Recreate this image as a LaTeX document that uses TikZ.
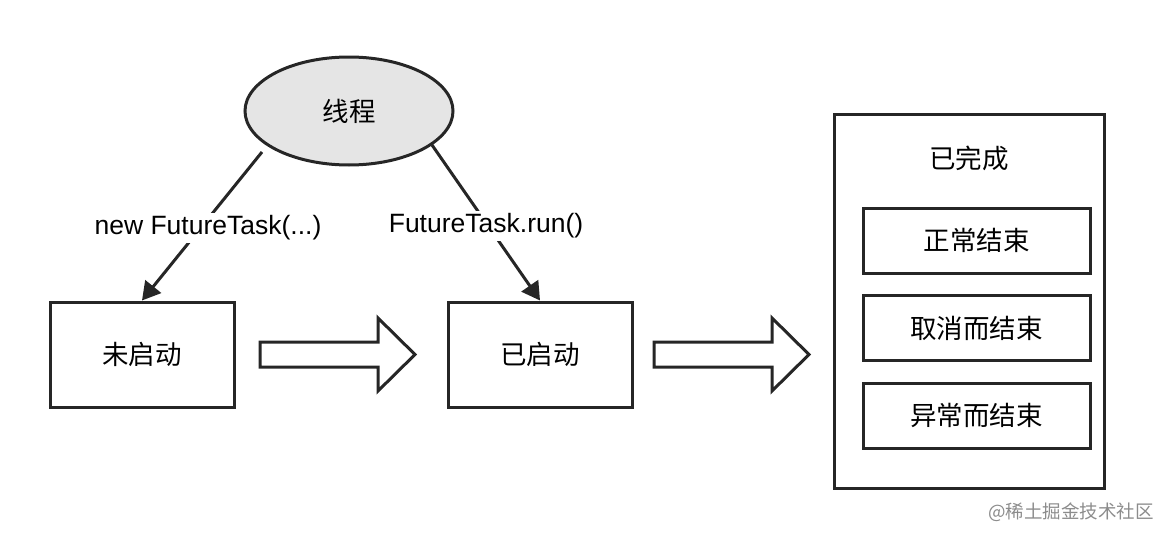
\documentclass[tikz,border=0pt]{standalone}
\usepackage{fontspec}
\setmainfont{Liberation Sans}
\newfontfamily\cjk{Noto Sans CJK SC}
\usetikzlibrary{shapes.geometric,arrows.meta}
\begin{document}
\begin{tikzpicture}[x=1pt,y=-1pt,
  ln/.style={draw=black!85,line width=3pt},
  box/.style={ln,rectangle,font=\cjk\fontsize{26.5}{30}\selectfont},
  lab/.style={fill=white,font=\fontsize{26.5}{30}\selectfont,inner sep=3pt},
  arr/.style={ln,-{Triangle[length=18pt,width=20pt]}},
  hollow/.style={ln,fill=white,line join=miter}]
\useasboundingbox (0,0) rectangle (1170,538);
\node[ln,ellipse,fill=black!10,minimum width=208pt,minimum height=108pt,font=\cjk\fontsize{26.5}{30}\selectfont] (th) at (349,111) {线程};
\node[box,minimum width=184pt,minimum height=105pt] (ns) at (142,354.5) {未启动};
\node[box,minimum width=184pt,minimum height=105pt] (st) at (540,354.5) {已启动};
\node[box,minimum width=270pt,minimum height=374pt] (done) at (969,301) {};
\node[font=\cjk\fontsize{26.5}{30}\selectfont] (dt) at (969,158) {已完成};
\node[box,minimum width=227pt,minimum height=65pt] (b1) at (976.5,240.5) {正常结束};
\node[box,minimum width=227pt,minimum height=65pt] (b2) at (976.5,328) {取消而结束};
\node[box,minimum width=227pt,minimum height=65pt] (b3) at (976.5,415.5) {异常而结束};
\coordinate (a1) at (262,152);
\coordinate (a2) at (432,145);
\draw[arr] (a1) -- (ns.north);
\draw[arr] (a2) -- (st.north);
\node[lab] (l1) at (208,228) {new FutureTask(...)};
\node[lab] (l2) at (486,226) {FutureTask.run()};
\draw[hollow] (260,342) -- (378,342) -- (378,318) -- (415,354.5) -- (378,391) -- (378,367) -- (260,367) -- cycle;
\draw[hollow] (654,342) -- (772,342) -- (772,318) -- (809,354.5) -- (772,391) -- (772,367) -- (654,367) -- cycle;
\node[font=\cjk\fontsize{18.5}{21}\selectfont,text=black!45] (wm) at (1071,512) {@稀土掘金技术社区};
\end{tikzpicture}
\end{document}
